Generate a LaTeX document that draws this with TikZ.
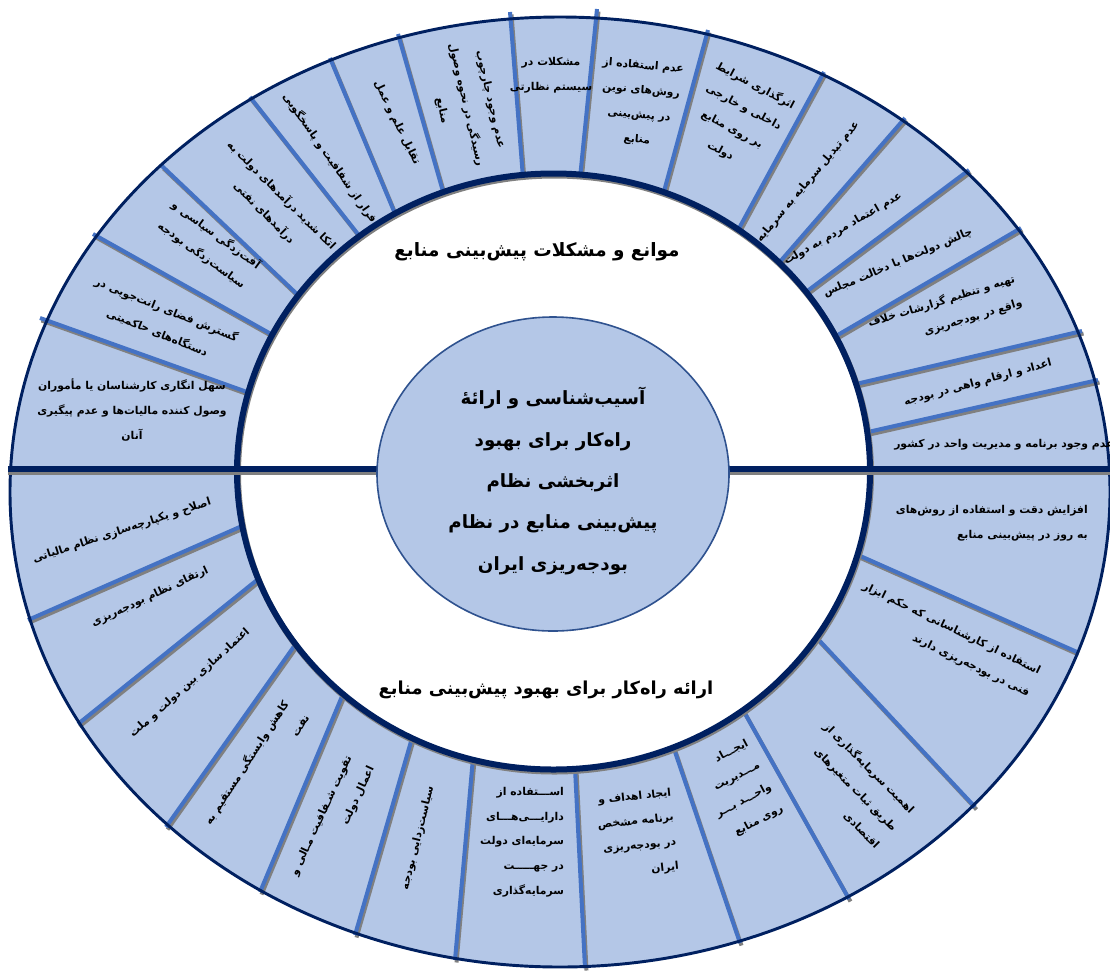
\documentclass[tikz,border=0pt]{standalone}
\usepackage{fontspec}
\usetikzlibrary{shapes.geometric}
\TeXXeTstate=1
\newfontfamily\fa[Script=Arabic]{DejaVu Sans}
\newcommand{\rl}[1]{\beginR #1\endR}
\newcommand{\segfont}{\fa\bfseries\fontsize{8.1}{18.5}\selectfont}
\newcommand{\titlefont}{\fa\bfseries\fontsize{13.8}{16}\selectfont}
\newcommand{\centerfont}{\fa\bfseries\fontsize{13.7}{31}\selectfont}
\definecolor{ringfill}{RGB}{180,199,231}
\definecolor{navy}{RGB}{0,32,96}
\definecolor{divblue}{RGB}{68,114,196}
\definecolor{shadowgray}{RGB}{128,128,128}
\definecolor{cborder}{RGB}{47,82,143}
\begin{document}
\begin{tikzpicture}[x=0.75pt,y=-0.75pt,
  seg/.style={font=\segfont, align=center, inner sep=0pt, text=black},
  segr/.style={seg, align=right},
  ttl/.style={font=\titlefont, align=center, inner sep=0pt},
  divline/.style={draw=divblue, line width=3pt},
  divshadow/.style={draw=shadowgray, line width=3pt},
  hline/.style={draw=navy, line width=3.8pt},
  hshadow/.style={draw=shadowgray, line width=3.8pt}]
\useasboundingbox (0,0) rectangle (1110,972);
\fill[white] (0,0) rectangle (1110,972);
% ring
\fill[ringfill] (560,492) ellipse [x radius=550, y radius=475];
% dividers (outer -> inner)
\foreach \ox/\oy/\ix/\iy in {
 40/318/247/392, 93/234/271/334, 162/166/299/296, 250/97/361/238,
 330/58/396/216, 398/34/444/195, 510/12/523/178, 597/9/580/178,
 708/30/663/195, 824/72/737/232, 905/118/778/264, 969/170/806/292,
 1021/228/836/336, 1082/331/856/384, 1098/380/868/432,
 28/620/242/526, 78/724/257/580, 166/827/295/645, 260/892/343/694,
 355/935/412/738, 455/960/473/758, 585/968/575/768, 740/943/673/746,
 849/899/743/710, 975/807/817/638, 1077/652/858/555}{
  \draw[divshadow] (\ox+1.5,\oy+2.5) -- (\ix+1.5,\iy+2.5);
  \draw[divline] (\ox,\oy) -- (\ix,\iy);
}
% inner white area
\fill[white] (553.5,471.5) ellipse [x radius=316.5, y radius=298];
\draw[shadowgray, line width=4.5pt] (554.5,473.5) ellipse [x radius=316.5, y radius=298];
\draw[navy, line width=4.5pt] (553.5,471.5) ellipse [x radius=316.5, y radius=298];
\draw[navy, line width=2.2pt] (560,492) ellipse [x radius=550, y radius=475];
% horizontal lines
\draw[hshadow] (8,472) -- (380,472);
\draw[hline] (8,469) -- (380,469);
\draw[hshadow] (726,472) -- (1112,472);
\draw[hline] (726,469) -- (1112,469);
% centre ellipse
\node[draw=cborder, line width=1.2pt, fill=ringfill, ellipse, minimum width=264pt, minimum height=235.5pt, inner sep=0pt] (core) at (553,474) {};
\node[font=\centerfont, align=center, inner sep=0pt] (coretext) at (553,481) {\rl{آسیب^^^^200cشناسی و ارائهٔ}\\\rl{راه^^^^200cکار برای بهبود}\\\rl{اثربخشی نظام}\\\rl{پیش^^^^200cبینی منابع در نظام}\\\rl{بودجه^^^^200cریزی ایران}};
% titles
\node[ttl] (title1) at (537,252) {\rl{موانع و مشکلات پیش^^^^200cبینی منابع}};
\node[ttl, font=\fa\bfseries\fontsize{13.4}{16}\selectfont] (title2) at (546,690) {\rl{ارائه راه^^^^200cکار برای بهبود پیش^^^^200cبینی منابع}};
% upper segments
\node[seg] (t1) at (132,410) {\rl{سهل انگاری کارشناسان یا مأموران}\\\rl{وصول کننده مالیات^^^^200cها و عدم پیگیری}\\\rl{آنان}};
\node[seg, rotate=-22] (t2) at (162,321) {\rl{گسترش فضای رانت^^^^200cجویی در}\\\rl{دستگاه^^^^200cهای حاکمیتی}};
\node[seg, rotate=-36] (t3) at (209,245) {\rl{آفت^^^^200cزدگی سیاسی و}\\\rl{سیاست^^^^200cزدگی بودجه}};
\node[seg, rotate=-45] (t4) at (273,204) {\rl{اتکا شدید درآمدهای دولت به}\\\rl{درآمدهای نفتی}};
\node[seg, rotate=-55] (t5) at (330,158) {\rl{فرار از شفافیت و پاسخگویی}};
\node[seg, rotate=-64] (t6) at (397,123) {\rl{تقابل علم و عمل}};
\node[seg, rotate=-77] (t7) at (466,105) {\rl{عدم وجود چارچوب}\\\rl{رسیدگی در نحوه وصول}\\\rl{منابع}};
\node[seg] (t8) at (551,75) {\rl{مشکلات در}\\\rl{سیستم نظارتی}};
\node[seg, rotate=-5] (t9) at (640,103) {\rl{عدم استفاده از}\\\rl{روش^^^^200cهای نوین}\\\rl{در پیش^^^^200cبینی}\\\rl{منابع}};
\node[seg, rotate=-28] (t10) at (738,118) {\rl{اثرگذاری شرایط}\\\rl{داخلی و خارجی}\\\rl{بر روی منابع}\\\rl{دولت}};
\node[seg, rotate=50] (t11) at (808,182) {\rl{عدم تبدیل سرمایه به سرمایه}};
\node[seg, rotate=30] (t12) at (843,229) {\rl{عدم اعتماد مردم به دولت}};
\node[seg, rotate=23] (t13) at (898,263) {\rl{چالش دولت^^^^200cها با دخالت مجلس}};
\node[segr, rotate=17] (t14) at (945,313) {\rl{تهیه و تنظیم گزارشات خلاف}\\\rl{واقع در بودجه^^^^200cریزی}};
\node[seg, rotate=15] (t15) at (978,383) {\rl{اعداد و ارقام واهی در بودجه}};
\node[seg, anchor=west] (t16) at (894,445) {\rl{عدم وجود برنامه و مدیریت واحد در کشور}};
% lower segments
\node[seg, rotate=18] (b1) at (122,531) {\rl{اصلاح و یکپارچه^^^^200cسازی نظام مالیاتی}};
\node[seg, rotate=25] (b2) at (150,597) {\rl{ارتقای نظام بودجه^^^^200cریزی}};
\node[seg, rotate=42] (b3) at (190,683) {\rl{اعتماد سازی بین دولت و ملت}};
\node[segr, rotate=57] (b4) at (256,769) {\rl{کاهش وابستگی مستقیم به}\\\rl{نفت}};
\node[segr, rotate=65] (b5) at (333,821) {\rl{تقویت شـفافیت مـالی و}\\\rl{اعمال دولت}};
\node[seg, rotate=76] (b6) at (418,838) {\rl{سیاست^^^^200cزدایی بودجه}};
\node[segr] (b7) at (522,842) {\rl{اســـتفاده از}\\\rl{دارایـــی^^^^200cهـــای}\\\rl{سرمایه^^^^200cای دولت}\\\rl{در جهـــــت}\\\rl{سرمایه^^^^200cگذاری}};
\node[segr, rotate=6] (b8) at (637,834) {\rl{ایجاد اهداف و}\\\rl{برنامه مشخص}\\\rl{در بودجه^^^^200cریزی}\\\rl{ایران}};
\node[segr, rotate=28] (b9) at (738,790) {\rl{ایجـــاد}\\\rl{مـــدیریت}\\\rl{واحـــد بـــر}\\\rl{روی منابع}};
\node[segr, rotate=-45] (b10) at (852,785) {\rl{اهمیت سرمایه^^^^200cگذاری از}\\\rl{طریق ثبات متغیرهای}\\\rl{اقتصادی}};
\node[segr, rotate=-26] (b11) at (946,640) {\rl{استفاده از کارشناسانی که حکم ابزار}\\\rl{فنی در بودجه^^^^200cریزی دارند}};
\node[segr, anchor=east] (b12) at (1088,523) {\rl{افزایش دقت و استفاده از روش^^^^200cهای}\\\rl{به روز در پیش^^^^200cبینی منابع}};
\end{tikzpicture}
\end{document}
